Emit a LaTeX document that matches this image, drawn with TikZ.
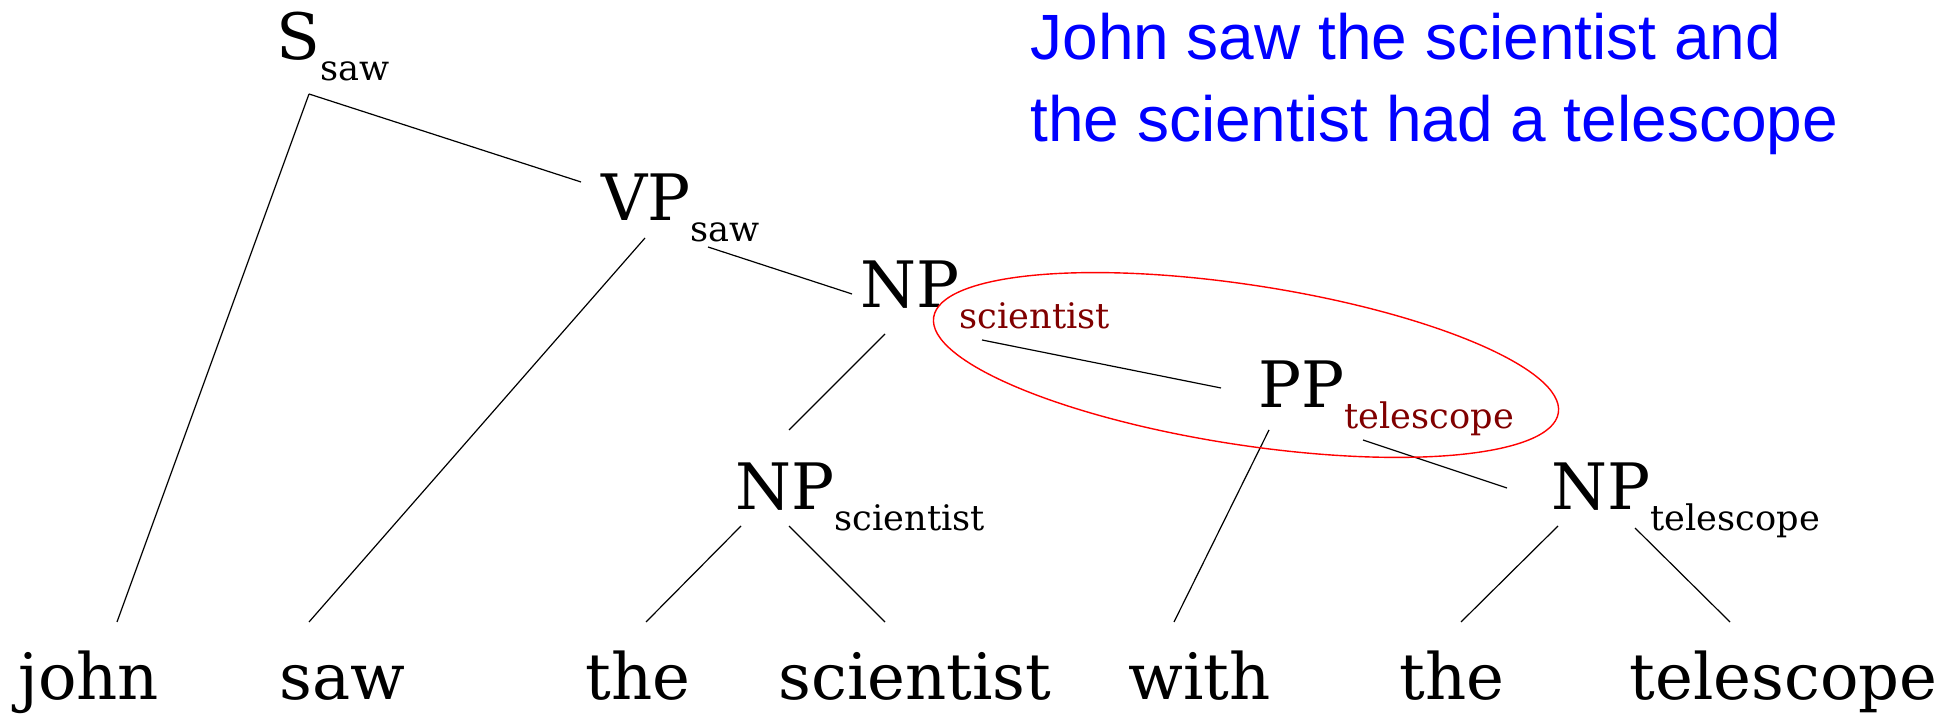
\documentclass[tikz,border=0pt]{standalone}
\usepackage{fontspec}
\setmainfont{DejaVu Serif}
\newfontfamily\glossfont{Liberation Sans}
\usepackage{tikz}
\usetikzlibrary{calc}
\definecolor{headred}{RGB}{128,0,0}
\definecolor{glossblue}{RGB}{0,0,255}
\definecolor{ringred}{RGB}{255,0,0}
\newcommand{\headof}[1]{\raisebox{-10.5pt}{\fontsize{17.6}{20}\selectfont #1}}
\tikzset{
  catnode/.style={anchor=base west, inner sep=0pt, font=\fontsize{32}{38}\selectfont},
  wordnode/.style={catnode},
  branch/.style={black, line width=0.6pt},
  ring/.style={ringred, line width=0.7pt},
  gloss/.style={anchor=base west, inner sep=0pt, align=left, text=glossblue,
                font=\glossfont\fontsize{32}{41}\selectfont},
}

\begin{document}
\begin{tikzpicture}[x=0.5pt, y=0.5pt]
  \useasboundingbox (0,0) rectangle (1958,715);
  % categories with their heads
  \node[catnode] (s)      at (276,655)  {S\headof{saw}};
  \node[catnode] (vp)     at (601,494)  {VP\headof{saw}};
  \node[catnode] (npsci)  at (860,407)  {NP\headof{\color{headred}scientist}};
  \node[catnode] (nps)    at (735,205)  {NP\headof{scientist}};
  \node[catnode] (pp)     at (1258,307) {PP\headof{\color{headred}telescope}};
  \node[catnode] (npt)    at (1551,205) {NP\headof{telescope}};
  % words
  \node[wordnode] (wjohn) at (18,15)   {john};
  \node[wordnode] (wsaw)  at (279,15)  {saw};
  \node[wordnode] (wthe)  at (585,15)  {the};
  \node[wordnode] (wsci)  at (778,15)  {scientist};
  \node[wordnode] (wwith) at (1128,15) {with};
  \node[wordnode] (wthet) at (1399,15) {the};
  \node[wordnode] (wtel)  at (1629,15) {telescope};
  % reading (base sits on the second line)
  \node[gloss] (reading) at (1030,573)
       {John saw the scientist and\\the scientist had a telescope};
  % branches
  \draw[branch] ($(s.base west)+(33,-34)$) -- ($(wjohn.base west)+(99,78)$);
  \draw[branch] ($(s.base west)+(33,-34)$) -- ($(vp.base west)+(-20,39)$);
  \draw[branch] ($(vp.base west)+(44,-17)$) -- ($(wsaw.base west)+(30,78)$);
  \draw[branch] ($(vp.base west)+(107,-26)$) -- ($(npsci.base west)+(-8,14)$);
  \draw[branch] ($(npsci.base west)+(25,-26)$) -- ($(nps.base west)+(54,80)$);
  \draw[branch] ($(npsci.base west)+(122,-32)$) -- ($(pp.base west)+(-37,20)$);
  \draw[branch] ($(nps.base west)+(6,-16)$) -- ($(wthe.base west)+(61,78)$);
  \draw[branch] ($(nps.base west)+(54,-16)$) -- ($(wsci.base west)+(107,78)$);
  \draw[branch] ($(pp.base west)+(11,-22)$) -- ($(wwith.base west)+(46,78)$);
  \draw[branch] ($(pp.base west)+(105,-32)$) -- ($(npt.base west)+(-44,22)$);
  \draw[branch] ($(npt.base west)+(7,-16)$) -- ($(wthet.base west)+(62,78)$);
  \draw[branch] ($(npt.base west)+(84,-18)$) -- ($(wtel.base west)+(101,78)$);
  % attachment of the PP
  \draw[ring, rotate around={-8.7:(1246,350)}] (1246,350) ellipse [x radius=158pt, y radius=40pt];
\end{tikzpicture}
\end{document}
